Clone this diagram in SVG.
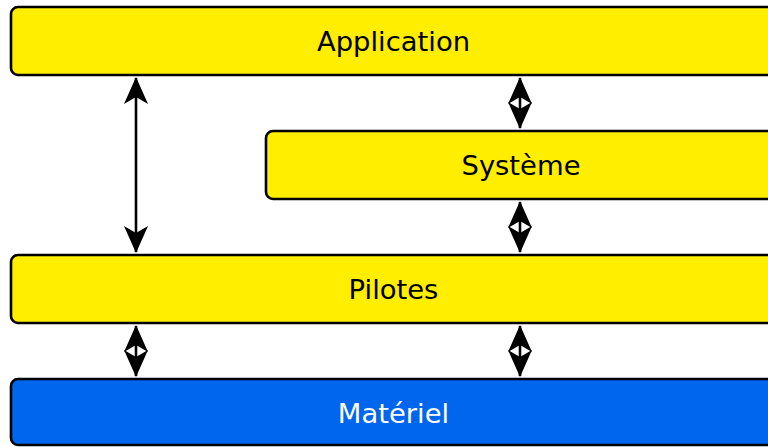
<svg xmlns="http://www.w3.org/2000/svg" width="768" height="447" viewBox="0 0 768 447">
<style>
.box{stroke:#000;stroke-width:2.6}
.y{fill:#ffee00}
.b{fill:#0066ee}
.t{font-family:"DejaVu Sans",sans-serif;font-size:27.4px;text-anchor:middle}
.conn{stroke:#000;stroke-width:2.6;fill:none;marker-start:url(#ah);marker-end:url(#ah)}
</style>
<defs>
<marker id="ah" markerUnits="userSpaceOnUse" refX="0" refY="0" markerWidth="40" markerHeight="40" orient="auto-start-reverse" overflow="visible">
<path d="M1,0 L-26,-12 L-19,0 L-26,12 Z" fill="#000"/>
</marker>
</defs>
<rect width="768" height="447" fill="#fff"/>
<g id="application"><rect class="box y" x="11" y="7" width="780" height="68" rx="7"/><text class="t" x="393.5" y="51">Application</text></g>
<g id="systeme"><rect class="box y" x="266" y="131" width="530" height="68" rx="7"/><text class="t" x="521" y="175">Système</text></g>
<g id="pilotes"><rect class="box y" x="11" y="255" width="780" height="68" rx="7"/><text class="t" x="393.5" y="299">Pilotes</text></g>
<g id="materiel"><rect class="box b" x="11" y="379" width="780" height="66" rx="7"/><text class="t" x="393.5" y="423" fill="#fff">Matériel</text></g>
<g id="connectors">
<path class="conn" d="M136,78 L136,252"/>
<path class="conn" d="M520,78 L520,128"/>
<path class="conn" d="M520,202 L520,252"/>
<path class="conn" d="M136,326 L136,376"/>
<path class="conn" d="M520,326 L520,376"/>
</g>
</svg>
